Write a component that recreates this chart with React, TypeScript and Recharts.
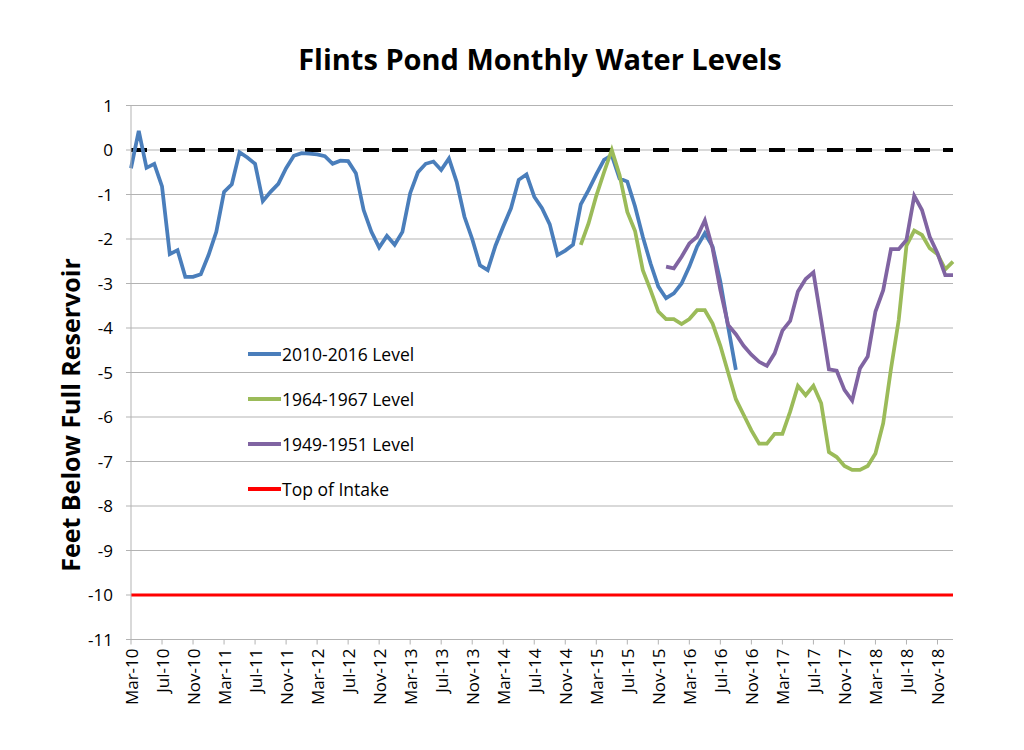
import { LineChart, Line, XAxis, YAxis, CartesianGrid, ReferenceLine } from "recharts";

const MONTH_NAMES = ["Jan", "Feb", "Mar", "Apr", "May", "Jun", "Jul", "Aug", "Sep", "Oct", "Nov", "Dec"];

// Mar-10 .. Jan-19, one category per month
const months: string[] = [];
for (let i = 0; i < 107; i++) {
  const m = (2 + i) % 12;
  const yy = 10 + Math.floor((2 + i) / 12);
  months.push(`${MONTH_NAMES[m]}-${String(yy).padStart(2, "0")}`);
}

// 2010-2016, starts Mar-10
const level2010 = [
  -0.41, 0.43, -0.4, -0.31, -0.82, -2.34, -2.25, -2.85, -2.85, -2.79,
  -2.36, -1.84, -0.94, -0.77, -0.05, -0.17, -0.31, -1.15, -0.94, -0.76,
  -0.41, -0.13, -0.07, -0.08, -0.1, -0.14, -0.31, -0.24, -0.25, -0.52,
  -1.35, -1.84, -2.19, -1.93, -2.13, -1.84, -0.97, -0.5, -0.31, -0.26,
  -0.45, -0.19, -0.72, -1.5, -2.0, -2.59, -2.7, -2.15, -1.72, -1.31,
  -0.67, -0.55, -1.05, -1.31, -1.67, -2.36, -2.26, -2.13, -1.22, -0.9,
  -0.55, -0.22, -0.12, -0.64, -0.71, -1.27, -1.95, -2.55, -3.07, -3.33,
  -3.22, -3.0, -2.62, -2.17, -1.87, -2.17, -2.96, -3.97, -4.94,
];
const start2010 = "Mar-10";

// 1964-1967, drawn from Jan-15
const level1964 = [
  -2.13, -1.65, -1.03, -0.5, 0, -0.56, -1.39, -1.82, -2.7, -3.15,
  -3.63, -3.8, -3.8, -3.91, -3.8, -3.6, -3.6, -3.9, -4.4, -5.0,
  -5.6, -5.95, -6.3, -6.6, -6.6, -6.38, -6.38, -5.88, -5.3, -5.51,
  -5.3, -5.69, -6.79, -6.9, -7.1, -7.19, -7.19, -7.1, -6.82, -6.14,
  -4.92, -3.82, -2.15, -1.81, -1.91, -2.21, -2.34, -2.68, -2.51,
];
const start1964 = "Jan-15";

// 1949-1951, drawn from Dec-15
const level1949 = [
  -2.62, -2.66, -2.4, -2.1, -1.95, -1.58, -2.21, -3.15, -3.93, -4.14,
  -4.4, -4.6, -4.76, -4.85, -4.57, -4.06, -3.84, -3.18, -2.9, -2.75,
  -3.82, -4.93, -4.96, -5.39, -5.63, -4.91, -4.64, -3.63, -3.15, -2.23,
  -2.23, -2.02, -1.03, -1.35, -1.95, -2.32, -2.81, -2.81,
];
const start1949 = "Dec-15";

const fullLevel = 0;
const topOfIntake = -10;
const yTicks = [1, 0, -1, -2, -3, -4, -5, -6, -7, -8, -9, -10, -11];

const series = [
  { key: "s2010", name: "2010-2016 Level", color: "#4a7ebb", values: level2010, start: start2010 },
  { key: "s1964", name: "1964-1967 Level", color: "#9bbb59", values: level1964, start: start1964 },
  { key: "s1949", name: "1949-1951 Level", color: "#8064a2", values: level1949, start: start1949 },
];

const legendItems = [
  ...series.map((s) => ({ name: s.name, color: s.color })),
  { name: "Top of Intake", color: "#ff0000" },
];

const data = months.map((month, i) => {
  const row: Record<string, string | number | null> = { month };
  series.forEach((s) => {
    const idx = i - months.indexOf(s.start);
    row[s.key] = idx >= 0 && idx < s.values.length ? s.values[idx] : null;
  });
  return row;
});

const FONT = "'Open Sans', sans-serif";
const GRID = "#b3b3b3";

const XTick = (props: any) => {
  const { x, y, payload } = props;
  return (
    <text
      x={x}
      y={y + 2}
      transform={`rotate(-90 ${x} ${y + 2})`}
      textAnchor="end"
      dominantBaseline="central"
      fontSize={17}
      fontFamily={FONT}
      fill="#000"
    >
      {payload.value}
    </text>
  );
};

export default function App() {
  return (
    <div style={{ position: "absolute", left: 0, top: 0, width: 1024, height: 750, background: "#fff" }}>
      <div
        style={{
          position: "absolute",
          left: 0,
          width: 1080,
          top: 39,
          textAlign: "center",
          fontFamily: FONT,
          fontWeight: 700,
          fontSize: 29,
          color: "#000",
        }}
      >
        Flints Pond Monthly Water Levels
      </div>
      <div
        style={{
          position: "absolute",
          left: 70,
          top: 415,
          transform: "translate(-50%, -50%) rotate(-90deg)",
          whiteSpace: "nowrap",
          fontFamily: FONT,
          fontWeight: 700,
          fontSize: 25,
          color: "#000",
        }}
      >
        Feet Below Full Reservoir
      </div>
      <LineChart
        width={1024}
        height={750}
        data={data}
        margin={{ top: 105.5, right: 71, bottom: 10.5, left: 91 }}
      >
        <CartesianGrid horizontal vertical={false} stroke={GRID} />
        <XAxis
          dataKey="month"
          interval={3}
          height={100}
          tick={<XTick />}
          tickSize={5}
          axisLine={{ stroke: GRID }}
          tickLine={{ stroke: GRID }}
        />
        <YAxis
          domain={[-11, 1]}
          ticks={yTicks}
          width={40}
          tickSize={5}
          tickMargin={13}
          axisLine={{ stroke: GRID }}
          tickLine={{ stroke: GRID }}
          tick={{ fontSize: 17, fontFamily: FONT, fill: "#000" }}
        />
        <ReferenceLine y={fullLevel} stroke="#000" strokeWidth={4} strokeDasharray="16 13" />
        <ReferenceLine y={topOfIntake} stroke="#ff0000" strokeWidth={3} />
        {series.map((s) => (
          <Line
            key={s.key}
            dataKey={s.key}
            name={s.name}
            type="linear"
            stroke={s.color}
            strokeWidth={3.75}
            dot={false}
            activeDot={false}
            isAnimationActive={false}
          />
        ))}
      </LineChart>
      <div style={{ position: "absolute", left: 248, top: 332, fontFamily: FONT, fontSize: 17.5 }}>
        {legendItems.map((it) => (
          <div key={it.name} style={{ height: 44.8, display: "flex", alignItems: "center" }}>
            <span style={{ display: "inline-block", width: 33, height: 4, background: it.color, marginRight: 1 }} />
            <span>{it.name}</span>
          </div>
        ))}
      </div>
    </div>
  );
}
